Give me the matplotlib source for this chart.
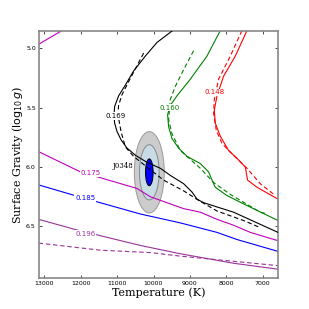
import matplotlib
matplotlib.use('Agg')
import matplotlib.pyplot as plt
from matplotlib.patches import Ellipse

# evolutionary tracks (Teff, log g)
t169 = [9474, 9904, 10225, 10547, 10775, 10959, 11069, 11085, 11069, 11003, 10893, 10728, 10500,
        10179, 9813, 9539, 9173, 8943, 8805, 8624, 7800, 6580]
g169 = [4.85, 4.95, 5.065, 5.19, 5.31, 5.40, 5.49, 5.56, 5.63, 5.70, 5.77, 5.84, 5.90,
        5.96, 6.01, 6.07, 6.14, 6.21, 6.27, 6.30, 6.38, 6.55]
t169d = [10272, 10684, 10866, 10959, 10975, 10959, 10893, 10775, 10547, 10179, 9723, 9173, 8761, 8256, 7525, 7067]
g169d = [5.04, 5.28, 5.39, 5.48, 5.53, 5.59, 5.70, 5.83, 5.91, 6.00, 6.11, 6.20, 6.28, 6.37, 6.45, 6.51]

t160 = [8165, 8531, 8989, 9355, 9540, 9613, 9585, 9492, 9311, 9080, 8715, 8487, 8393, 8303, 7981, 7525, 6580]
g160 = [4.85, 5.065, 5.26, 5.40, 5.48, 5.56, 5.66, 5.76, 5.84, 5.91, 5.97, 6.04, 6.11, 6.17, 6.24, 6.31, 6.45]
t160d = [8899, 9173, 9401, 9539, 9585, 9492, 9264, 8715, 8349, 7890, 7067, 6929]
g160d = [5.02, 5.18, 5.32, 5.43, 5.60, 5.72, 5.86, 6.01, 6.13, 6.23, 6.38, 6.39]

t148 = [7432, 7753, 8075, 8256, 8330, 8303, 8165, 7937, 7662, 7478, 7415, 7157, 6580]
g148 = [4.85, 5.065, 5.235, 5.40, 5.52, 5.63, 5.74, 5.86, 5.94, 6.00, 6.11, 6.17, 6.27]
t148d = [7569, 7890, 8212, 8330, 8349, 8275, 8119, 7937, 7432, 7067, 6654]
g148d = [4.85, 5.065, 5.26, 5.43, 5.55, 5.69, 5.80, 5.86, 6.01, 6.14, 6.24]

t175a = [13157, 12515]
g175a = [4.966, 4.85]
t175 = [13157, 12011, 10454, 10088, 9173, 8715, 8256, 7800, 7341, 6580]
g175 = [5.87, 6.04, 6.18, 6.25, 6.35, 6.38, 6.44, 6.49, 6.55, 6.62]

t185 = [13157, 12102, 10363, 9264, 8256, 7707, 6580]
g185 = [6.15, 6.245, 6.395, 6.47, 6.55, 6.61, 6.71]

t196 = [13157, 12102, 10363, 9264, 7800, 6580]
g196 = [6.44, 6.53, 6.66, 6.73, 6.81, 6.86]
t196d = [13157, 11462, 10088, 9264, 8256, 6580]
g196d = [6.64, 6.70, 6.72, 6.75, 6.78, 6.83]

# J0348 measurement
teff0, logg0 = 10116, 6.044
sig_t = [210, 540, 822]
sig_g = [0.226, 0.465, 0.685]

purple = '#993399'

fig = plt.figure(figsize=(3.09, 3.09), dpi=100)
ax = fig.add_axes([0.125, 0.1, 0.775, 0.8])

# error ellipses
ax.add_patch(Ellipse((teff0, logg0), sig_t[2], sig_g[2], fc='#cccccc', ec='#999999', lw=0.7, zorder=1))
ax.add_patch(Ellipse((teff0, logg0), sig_t[1], sig_g[1], fc='#c8dce6', ec='#888888', lw=0.7, zorder=1))
ax.add_patch(Ellipse((teff0, logg0), sig_t[0], sig_g[0], fc='blue', ec='k', lw=0.7, zorder=2))

lw = 0.8
dash = (4, 2.5)
ax.plot(t169, g169, 'k-', lw=lw, zorder=3)
ax.plot(t169d, g169d, 'k--', lw=lw, dashes=dash, zorder=3)
ax.plot(t160, g160, 'g-', lw=lw)
ax.plot(t160d, g160d, 'g--', lw=lw, dashes=dash)
ax.plot(t148, g148, 'r-', lw=lw)
ax.plot(t148d, g148d, 'r--', lw=lw, dashes=dash)
ax.plot(t175a, g175a, 'm-', lw=lw)
ax.plot(t175, g175, 'm-', lw=lw)
ax.plot(t185, g185, 'b-', lw=lw)
ax.plot(t196, g196, '-', color=purple, lw=lw)
ax.plot(t196d, g196d, '--', color=purple, lw=lw, dashes=dash)

box = dict(fc='white', ec='none', pad=0.5)
fs = 5
ax.text(11054, 5.57, '0.169', color='k', fontsize=fs, ha='center', va='center', bbox=box, zorder=4)
ax.text(9548, 5.50, '0.160', color='g', fontsize=fs, ha='center', va='center', bbox=box, zorder=4)
ax.text(8315, 5.37, '0.148', color='r', fontsize=fs, ha='center', va='center', bbox=box, zorder=4)
ax.text(11720, 6.05, '0.175', color='m', fontsize=fs, ha='center', va='center', bbox=box, zorder=4)
ax.text(11876, 6.26, '0.185', color='b', fontsize=fs, ha='center', va='center', bbox=box, zorder=4)
ax.text(11876, 6.56, '0.196', color=purple, fontsize=fs, ha='center', va='center', bbox=box, zorder=4)
ax.text(10830, 5.99, 'J0348', color='k', fontsize=fs, family='DejaVu Serif', ha='center', va='center', zorder=4)

ax.set_xlim(13157, 6577)
ax.set_ylim(6.935, 4.853)
ax.set_xticks([13000, 12000, 11000, 10000, 9000, 8000, 7000])
ax.set_yticks([5.0, 5.5, 6.0, 6.5])
ax.tick_params(direction='in', top=True, right=True, labelsize=4.5, length=2, width=0.5, pad=2)
for s in ax.spines.values():
    s.set_color('#888888')
    s.set_linewidth(1.2)

plt.rcParams['mathtext.fontset'] = 'dejavuserif'
ax.set_xlabel('Temperature (K)', family='DejaVu Serif', fontsize=8, labelpad=1)
ax.set_ylabel(r'Surface Gravity ($\log_{10} g$)', family='DejaVu Serif', fontsize=8, labelpad=1)

fig.savefig('out.png', dpi=100)
